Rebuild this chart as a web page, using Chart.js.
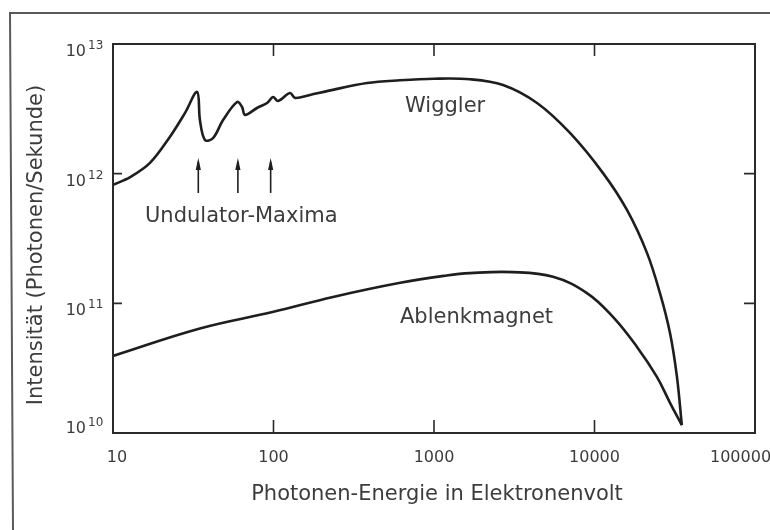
<!DOCTYPE html>
<html>
<head>
<meta charset="utf-8">
<script src="https://cdn.jsdelivr.net/npm/chart.js@4/dist/chart.umd.min.js"></script>
<style>
  html, body { margin: 0; padding: 0; background: #fff; }
  #c { display: block; }
</style>
</head>
<body>
<canvas id="c" width="770" height="530"></canvas>
<script>
// ---- data ----
const wigglerE = [10, 12.8, 17.0, 22.6, 28.1, 33.4, 34.8, 37.4, 42.0, 48.5, 59.3, 63.7, 66.4, 78.9, 91.2, 99.3, 106.7, 126.7, 136.2, 168.8, 218.6, 383, 614, 1000, 1675, 2692, 4385, 7035, 11300, 15930, 21230, 25580, 29540, 32640, 35000];
const wigglerI = [8.2e11, 9.4e11, 1.21e12, 1.92e12, 2.94e12, 4.27e12, 2.59e12, 1.82e12, 1.88e12, 2.59e12, 3.57e12, 3.27e12, 2.84e12, 3.21e12, 3.51e12, 3.90e12, 3.64e12, 4.19e12, 3.84e12, 4.05e12, 4.35e12, 5.0e12, 5.25e12, 5.4e12, 5.35e12, 4.83e12, 3.51e12, 2.06e12, 1.01e12, 5.25e11, 2.45e11, 1.2e11, 5.91e10, 2.71e10, 1.15e10];

const ablenkE = [10, 34.8, 100, 235, 616, 1200, 1675, 3100, 5513, 8970, 13030, 18400, 24480, 29540, 35000];
const ablenkI = [3.93e10, 6.4e10, 8.6e10, 1.12e11, 1.44e11, 1.64e11, 1.71e11, 1.74e11, 1.6e11, 1.2e11, 7.86e10, 4.61e10, 2.71e10, 1.71e10, 1.15e10];

// undulator-maxima arrows (energy, from intensity, to intensity)
const arrowE = [34, 60, 96];
const arrowFrom = [7.1e11, 7.1e11, 7.1e11];
const arrowTo = [1.32e12, 1.32e12, 1.32e12];

const xTicks = [10, 100, 1000, 10000, 100000];
const xTickLabels = ['10', '100', '1000', '10000', '100000'];
const yTicks = [1e10, 1e11, 1e12, 1e13];
const yTickExp = ['10', '11', '12', '13'];
const innerXTicks = [100, 1000, 10000];
const innerYTicks = [1e11, 1e12];

const xTitle = 'Photonen-Energie in Elektronenvolt';
const yTitle = 'Intensität (Photonen/Sekunde)';
const seriesNames = ['Wiggler', 'Ablenkmagnet'];
const arrowCaption = 'Undulator-Maxima';

function pts(xs, ys) { return xs.map((x, i) => ({ x: x, y: ys[i] })); }

const FONT = '"DejaVu Sans", sans-serif';
const TEXT = '#3c3c3c';
const INK = '#1e1e1e';

const decor = {
  id: 'decor',
  afterDraw(chart) {
    const ctx = chart.ctx;
    const a = chart.chartArea;
    const xs = chart.scales.x, ys = chart.scales.y;
    ctx.save();

    // outer scan frame (left and top)
    ctx.strokeStyle = '#5a5a5a';
    ctx.lineWidth = 2;
    ctx.beginPath();
    ctx.moveTo(770, 13);
    ctx.lineTo(10, 13);
    ctx.lineTo(13, 530);
    ctx.stroke();

    // plot box
    ctx.strokeStyle = '#2a2a2a';
    ctx.lineWidth = 2;
    ctx.strokeRect(a.left, a.top, a.right - a.left, a.bottom - a.top);

    // inner ticks
    ctx.lineWidth = 1.6;
    ctx.beginPath();
    innerXTicks.forEach(v => {
      const px = xs.getPixelForValue(v);
      ctx.moveTo(px, a.bottom); ctx.lineTo(px, a.bottom - 13);
      ctx.moveTo(px, a.top); ctx.lineTo(px, a.top + 12);
    });
    innerYTicks.forEach(v => {
      const py = ys.getPixelForValue(v);
      ctx.moveTo(a.left, py); ctx.lineTo(a.left + 9, py);
      ctx.moveTo(a.right, py); ctx.lineTo(a.right - 11, py);
    });
    ctx.stroke();

    // x tick labels
    ctx.fillStyle = TEXT;
    ctx.font = '16px ' + FONT;
    ctx.textBaseline = 'alphabetic';
    xTicks.forEach((v, i) => {
      let px = xs.getPixelForValue(v);
      if (i === xTicks.length - 1) { ctx.textAlign = 'left'; px = px - 45; }
      else { ctx.textAlign = 'center'; if (i === 0) px += 4; }
      ctx.fillText(xTickLabels[i], px, 462);
    });

    // y tick labels 10^n
    yTicks.forEach((v, i) => {
      const py = ys.getPixelForValue(v);
      const base = Math.min(py + 12, a.bottom);
      ctx.font = '16px ' + FONT;
      ctx.textAlign = 'right';
      ctx.fillText('10', 86, base);
      ctx.font = '12px ' + FONT;
      ctx.textAlign = 'left';
      ctx.fillText(yTickExp[i], 88, base - 7);
    });

    // axis titles
    ctx.font = '21px ' + FONT;
    ctx.textAlign = 'center';
    ctx.fillText(xTitle, 437, 500);
    ctx.save();
    ctx.translate(37, 245);
    ctx.rotate(-Math.PI / 2);
    ctx.textBaseline = 'middle';
    ctx.fillText(yTitle, 0, 0);
    ctx.restore();

    // series labels
    ctx.font = '21px ' + FONT;
    ctx.textAlign = 'left';
    ctx.textBaseline = 'alphabetic';
    ctx.fillText(seriesNames[0], 405, 112);
    ctx.fillText(seriesNames[1], 400, 323);
    ctx.fillText(arrowCaption, 145, 222);

    // arrows
    ctx.strokeStyle = INK;
    ctx.fillStyle = INK;
    ctx.lineWidth = 1.6;
    arrowE.forEach((e, i) => {
      const px = xs.getPixelForValue(e);
      const y0 = ys.getPixelForValue(arrowFrom[i]);
      const y1 = ys.getPixelForValue(arrowTo[i]);
      ctx.beginPath();
      ctx.moveTo(px, y0); ctx.lineTo(px, y1 + 4);
      ctx.stroke();
      ctx.beginPath();
      ctx.moveTo(px, y1);
      ctx.lineTo(px - 2.6, y1 + 12);
      ctx.lineTo(px + 2.6, y1 + 12);
      ctx.closePath();
      ctx.fill();
    });

    ctx.restore();
  }
};

new Chart(document.getElementById('c'), {
  type: 'line',
  data: {
    datasets: [
      { label: seriesNames[0], data: pts(wigglerE, wigglerI), borderColor: INK, borderWidth: 2.6, pointRadius: 0, tension: 0.35, fill: false },
      { label: seriesNames[1], data: pts(ablenkE, ablenkI), borderColor: INK, borderWidth: 2.6, pointRadius: 0, tension: 0.4, fill: false }
    ]
  },
  options: {
    responsive: false,
    devicePixelRatio: 1,
    animation: false,
    layout: { padding: { left: 113, top: 44, right: 15, bottom: 97 } },
    plugins: { legend: { display: false }, tooltip: { enabled: false } },
    scales: {
      x: { type: 'logarithmic', min: 10, max: 100000, display: false },
      y: { type: 'logarithmic', min: 1e10, max: 1e13, display: false }
    }
  },
  plugins: [decor]
});
</script>
</body>
</html>
